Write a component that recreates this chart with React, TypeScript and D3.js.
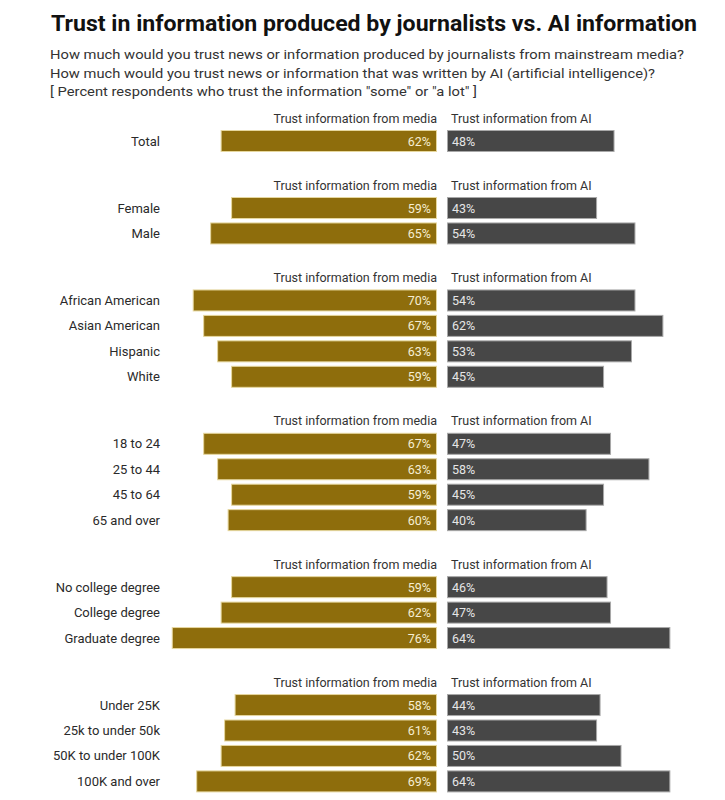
import React from "react";
import * as d3 from "d3";

const title = "Trust in information produced by journalists vs. AI information";
const subtitleLines = [
  "How much would you trust news or information produced by journalists from mainstream media?",
  "How much would you trust news or information that was written by AI (artificial intelligence)?",
  "[ Percent respondents who trust the information \"some\" or \"a lot\" ]",
];
const seriesNames = ["Trust information from media", "Trust information from AI"];

const categories = [
  "Total",
  "Female", "Male",
  "African American", "Asian American", "Hispanic", "White",
  "18 to 24", "25 to 44", "45 to 64", "65 and over",
  "No college degree", "College degree", "Graduate degree",
  "Under 25K", "25k to under 50k", "50K to under 100K", "100K and over",
];
const groupOf = [0, 1, 1, 2, 2, 2, 2, 3, 3, 3, 3, 4, 4, 4, 5, 5, 5, 5];
const mediaPct = [62, 59, 65, 70, 67, 63, 59, 67, 63, 59, 60, 59, 62, 76, 58, 61, 62, 69];
const aiPct = [48, 43, 54, 54, 62, 53, 45, 47, 58, 45, 40, 46, 47, 64, 44, 43, 50, 64];

const W = 725;
const H = 800;
const FONT = "Roboto, 'Noto Sans', sans-serif";

export default function App() {
  const mediaRight = 437;
  const aiLeft = 447;
  const labelRight = 160;
  const x = d3.scaleLinear().domain([0, 100]).range([0, 349]);

  const firstY = 141;
  const rowStep = 25.45;
  const groupGap = 67;
  const barH = 22;

  const ys: number[] = [];
  categories.forEach((_, i) => {
    if (i === 0) ys.push(firstY);
    else if (groupOf[i] !== groupOf[i - 1]) ys.push(ys[i - 1] + groupGap);
    else ys.push(ys[i - 1] + rowStep);
  });
  const groupStarts = categories
    .map((_, i) => i)
    .filter((i) => i === 0 || groupOf[i] !== groupOf[i - 1]);

  return (
    <svg
      width={W}
      height={H}
      viewBox={`0 0 ${W} ${H}`}
      style={{ position: "absolute", left: 0, top: 0, background: "#fff" }}
      fontFamily={FONT}
    >
      <rect x={0} y={0} width={W} height={H} fill="#fff" />
      <text
        x={51}
        y={31}
        fontSize={22.5}
        fontWeight={700}
        fill="#111"
        textLength={646}
        lengthAdjust="spacingAndGlyphs"
      >
        {title}
      </text>
      {subtitleLines.map((s, i) => (
        <text
          key={i}
          x={50}
          y={59 + i * 18.5}
          fontSize={13.5}
          fill="#333"
          textLength={[634, 605, 427][i]}
          lengthAdjust="spacingAndGlyphs"
        >
          {s}
        </text>
      ))}

      {groupStarts.map((gi) => (
        <g key={"h" + gi}>
          <text x={mediaRight} y={ys[gi] - 23 + 4.5} fontSize={12.5} fill="#333" textAnchor="end">
            {seriesNames[0]}
          </text>
          <text x={aiLeft + 4} y={ys[gi] - 23 + 4.5} fontSize={12.5} fill="#333">
            {seriesNames[1]}
          </text>
        </g>
      ))}

      {categories.map((c, i) => {
        const y = ys[i];
        const mw = x(mediaPct[i]);
        const aw = x(aiPct[i]);
        return (
          <g key={c}>
            <text x={labelRight} y={y + 4.5} fontSize={13} fill="#2a2a2a" textAnchor="end">
              {c}
            </text>
            <rect
              x={mediaRight - mw + 0.5}
              y={y - barH / 2 + 0.5}
              width={mw - 1}
              height={barH - 1}
              fill="#8e6d0c"
              stroke="#e6d79e"
              strokeWidth={1}
            />
            <text x={mediaRight - 6} y={y + 4.5} fontSize={12.5} fill="#f6eed2" textAnchor="end">
              {mediaPct[i]}%
            </text>
            <rect
              x={aiLeft + 0.5}
              y={y - barH / 2 + 0.5}
              width={aw - 1}
              height={barH - 1}
              fill="#474747"
              stroke="#a8a8a8"
              strokeWidth={1}
            />
            <text x={aiLeft + 5} y={y + 4.5} fontSize={12.5} fill="#e6e6e6">
              {aiPct[i]}%
            </text>
          </g>
        );
      })}
    </svg>
  );
}
